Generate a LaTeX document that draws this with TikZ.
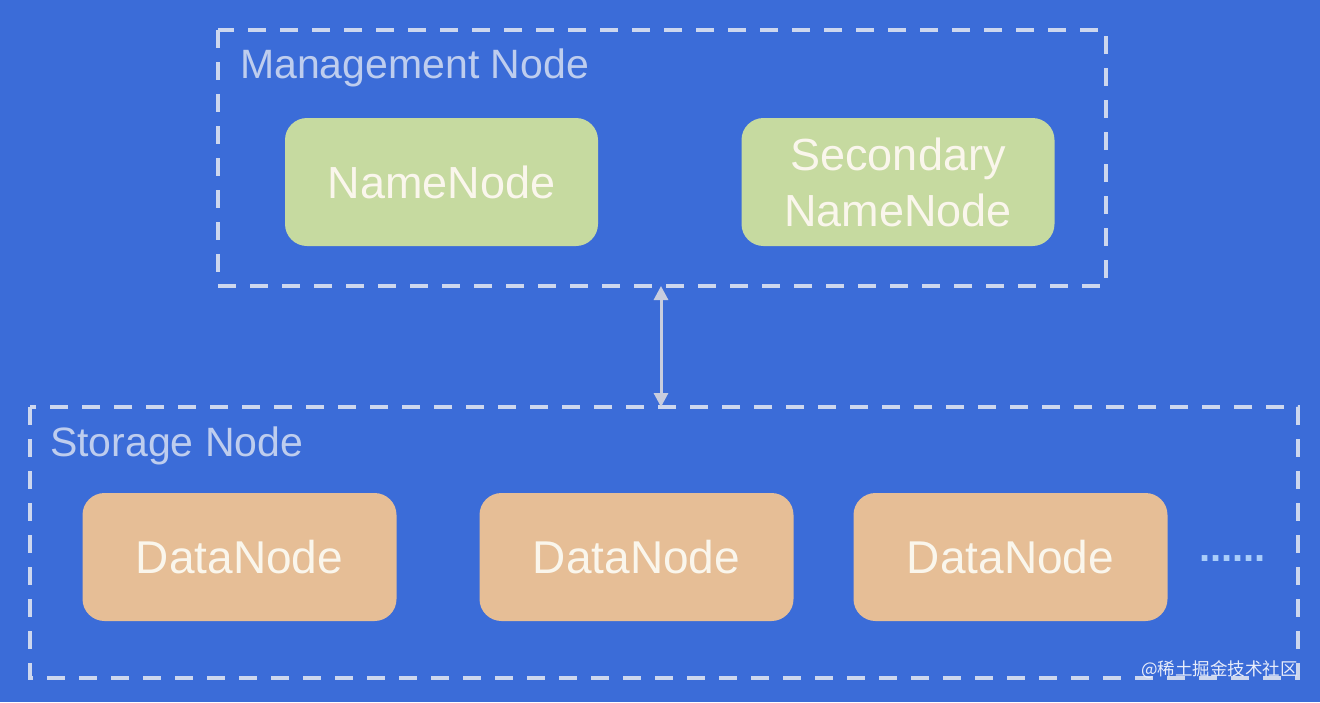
\documentclass[tikz,border=0pt]{standalone}
\usepackage{fontspec}
\setmainfont{Liberation Sans}
\newfontfamily\cjk{Noto Sans CJK SC}
\usetikzlibrary{arrows.meta}
\definecolor{bgblue}{RGB}{59,108,216}
\definecolor{dashcol}{RGB}{205,215,238}
\definecolor{labcol}{RGB}{190,205,238}
\definecolor{greenfill}{RGB}{198,218,160}
\definecolor{orangefill}{RGB}{230,190,150}
\definecolor{nodetext}{RGB}{250,246,236}
\definecolor{arrowcol}{RGB}{200,205,222}
\definecolor{dotcol}{RGB}{170,205,250}
\tikzset{
  x=1pt,y=-1pt,
  group/.style={draw=dashcol,line width=4pt,dash pattern=on 18pt off 14pt},
  grouplabel/.style={anchor=west,text=labcol,font=\fontsize{41}{48}\selectfont,inner sep=0pt},
  mgmt/.style={fill=greenfill,rounded corners=22pt,minimum width=313pt,minimum height=128pt,text=nodetext,font=\fontsize{45}{56}\selectfont,align=center,inner sep=0pt},
  data/.style={fill=orangefill,rounded corners=22pt,minimum width=314pt,minimum height=128pt,text=nodetext,font=\fontsize{46}{56}\selectfont,align=center,inner sep=0pt},
  link/.style={draw=arrowcol,line width=3pt,{Triangle[width=14pt,length=14pt]}-{Triangle[width=14pt,length=14pt]}}
}
\begin{document}
\begin{tikzpicture}
\fill[bgblue] (0,0) rectangle (1320,702);
\useasboundingbox (0,0) rectangle (1320,702);
% groups
\draw[group] (218,30) rectangle (1106,286);
\coordinate (mtop) at (661,286);
\node[grouplabel] (mlab) at (240,68) {Management Node};
\draw[group] (30,407) rectangle (1298,678);
\coordinate (sbot) at (661,407);
\node[grouplabel] (slab) at (50,446) {Storage Node};
% nodes
\node[mgmt] (nn) at (441.5,182) {NameNode};
\node[mgmt] (snn) at (898,182) {Secondary\\NameNode};
\node[data] (d1) at (239.5,557) {DataNode};
\node[data] (d2) at (636.5,557) {DataNode};
\node[data] (d3) at (1010.5,557) {DataNode};
\node[anchor=base west,text=dotcol,font=\bfseries\fontsize{40}{40}\selectfont,inner sep=0pt] (dots) at (1199,561) {......};
% link
\draw[link] (mtop) -- (sbot);
% watermark
\node[anchor=east,text=white!88!bgblue,font=\cjk\fontsize{17.5}{18}\selectfont,inner sep=0pt] (wm) at (1298,670) {@稀土掘金技术社区};
\end{tikzpicture}
\end{document}
